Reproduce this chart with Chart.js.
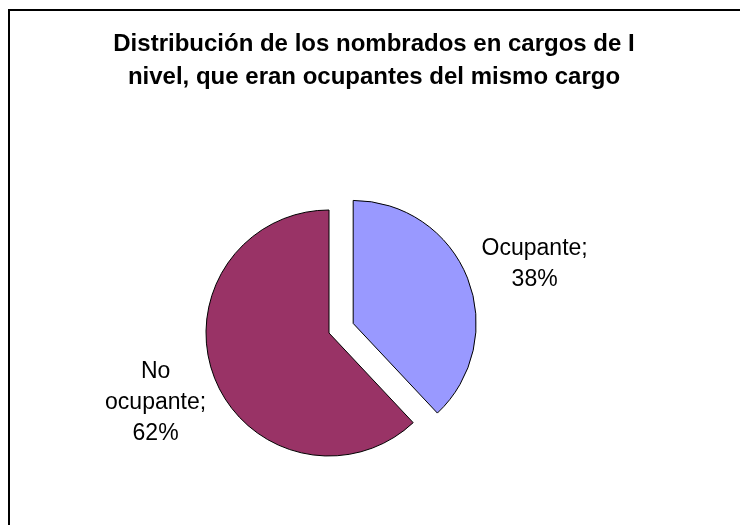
<!DOCTYPE html>
<html>
<head>
<meta charset="utf-8">
<script src="https://cdn.jsdelivr.net/npm/chart.js@4/dist/chart.umd.min.js"></script>
<style>
  html, body { margin: 0; padding: 0; background: #fff; overflow: hidden; }
  #wrap { position: relative; width: 740px; height: 525px; }
  #frame {
    position: absolute; left: 8px; top: 9px; width: 800px; height: 600px;
    border-left: 2px solid #000; border-top: 2px solid #000;
  }
  #myChart { position: absolute; left: 0; top: 0; }
</style>
</head>
<body>
<div id="wrap">
  <div id="frame"></div>
  <canvas id="myChart" width="740" height="525"></canvas>
</div>
<script>
// chart data
const titleLines = ['Distribución de los nombrados en cargos de I', 'nivel, que eran ocupantes del mismo cargo'];
const categories = ['Ocupante', 'No ocupante'];
const percents = [38, 62];
const sliceColors = ['#9999FF', '#993366'];
const explode = [26, 0]; // px the slice is pulled out

const labelFont = '23px "Liberation Sans", Arial, sans-serif';
const titleFont = 'bold 24px "Liberation Sans", Arial, sans-serif';

// label lines, Excel style "Name; 38%"
function labelLines(i) {
    if (i === 1) return ['No', 'ocupante;', percents[i] + '%'];
    return [categories[i] + ';', percents[i] + '%'];
}

// pull exploded slices out along their mid angle (chart.js offset also grows the radius)
const explodeSlices = {
    id: 'explodeSlices',
    afterDatasetsUpdate(chart) {
        const meta = chart.getDatasetMeta(0);
        meta.data.forEach((arc, i) => {
            if (!explode[i]) return;
            const mid = (arc.startAngle + arc.endAngle) / 2;
            arc.x += Math.cos(mid) * explode[i];
            arc.y += Math.sin(mid) * explode[i];
        });
    }
};

// title + data labels drawn on the canvas
const pieText = {
    id: 'pieText',
    afterDraw(chart) {
        const ctx = chart.ctx;
        ctx.save();
        ctx.fillStyle = '#000';
        ctx.textAlign = 'center';
        ctx.textBaseline = 'middle';

        ctx.font = titleFont;
        titleLines.forEach((t, i) => ctx.fillText(t, 374, 44 + i * 33));

        ctx.font = labelFont;
        const lineH = 31;
        const gap = [14, 2];
        const nudgeY = [13, 1];
        const meta = chart.getDatasetMeta(0);
        meta.data.forEach((arc, i) => {
            const p = arc.getProps(['x', 'y', 'startAngle', 'endAngle', 'outerRadius'], true);
            const mid = (p.startAngle + p.endAngle) / 2;
            const c = Math.cos(mid), s = Math.sin(mid);
            const lines = labelLines(i);
            const w = Math.max(...lines.map(l => ctx.measureText(l).width));
            const h = lines.length * lineH - 14;
            const dist = p.outerRadius + Math.abs(c) * w / 2 + Math.abs(s) * h / 2 + gap[i];
            const cx = p.x + c * dist;
            const cy = p.y + s * dist + nudgeY[i];
            lines.forEach((l, k) => {
                ctx.fillText(l, cx, cy + (k - (lines.length - 1) / 2) * lineH);
            });
        });
        ctx.restore();
    }
};

const ctx = document.getElementById('myChart').getContext('2d');
const chart = new Chart(ctx, {
    type: 'pie',
    data: {
        labels: categories,
        datasets: [{
            data: percents,
            backgroundColor: sliceColors,
            borderColor: '#000',
            borderWidth: 1
        }]
    },
    options: {
        responsive: false,
        animation: false,
        radius: 123,
        layout: { padding: { left: 0, right: 82, top: 141, bottom: 0 } },
        plugins: {
            legend: { display: false },
            title: { display: false },
            tooltip: { enabled: false }
        }
    },
    plugins: [explodeSlices, pieText]
});
</script>
</body>
</html>
